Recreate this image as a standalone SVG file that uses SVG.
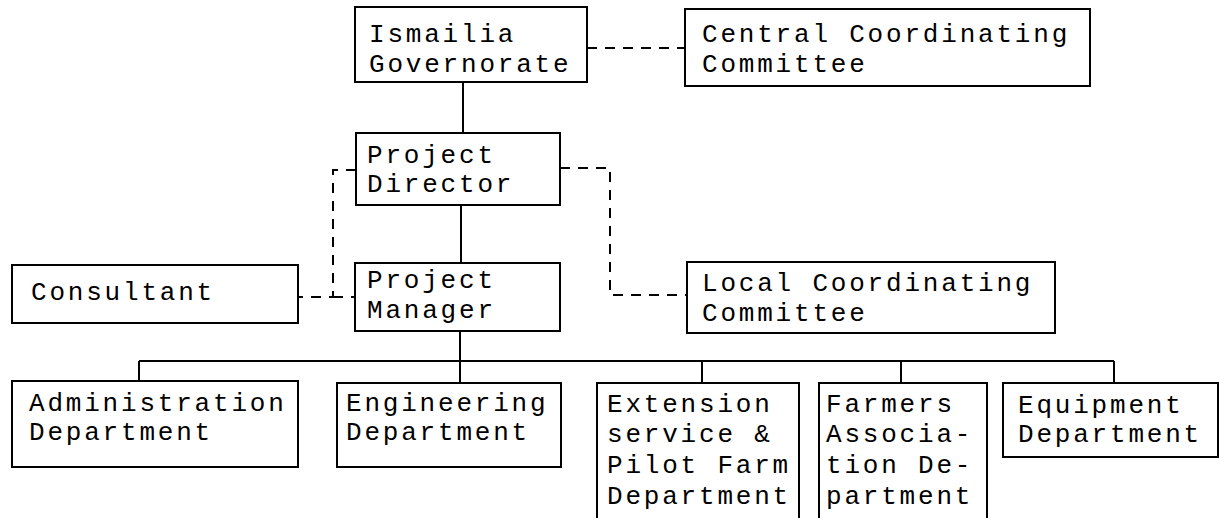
<svg xmlns="http://www.w3.org/2000/svg" width="1220" height="518" viewBox="0 0 1220 518">
  <style>
    .box { fill: #fff; stroke: #000; stroke-width: 2; }
    .lbl { font-family: "Liberation Mono", "DejaVu Sans Mono", monospace; font-size: 26px; letter-spacing: 2.8px; fill: #000; }
    .solid { fill: none; stroke: #000; stroke-width: 2; }
    .dash { fill: none; stroke: #000; stroke-width: 2; stroke-dasharray: 10 8; }
  </style>
  <rect width="1220" height="518" fill="#fff"/>

  <!-- connectors -->
  <g id="connectors">
    <line class="solid" x1="463" y1="82" x2="463" y2="133"/>
    <line class="solid" x1="461" y1="205" x2="461" y2="263"/>
    <line class="solid" x1="460" y1="331" x2="460" y2="361"/>
    <line class="solid" x1="139" y1="361" x2="1114" y2="361"/>
    <line class="solid" x1="139" y1="361" x2="139" y2="381"/>
    <line class="solid" x1="460" y1="361" x2="460" y2="383"/>
    <line class="solid" x1="702" y1="361" x2="702" y2="383"/>
    <line class="solid" x1="901" y1="361" x2="901" y2="383"/>
    <line class="solid" x1="1114" y1="361" x2="1114" y2="383"/>
    <line class="dash" x1="587" y1="48" x2="685" y2="48"/>
    <polyline class="dash" points="356,170 333,170 333,297 298,297"/>
    <line class="dash" x1="333" y1="297" x2="355" y2="297"/>
    <polyline class="dash" points="560,168 610,168 610,295 687,295"/>
  </g>

  <g id="ismailia">
    <rect class="box" x="355" y="7" width="232" height="75"/>
    <text class="lbl" x="369" y="42">Ismailia</text>
    <text class="lbl" x="369" y="72">Governorate</text>
  </g>
  <g id="central">
    <rect class="box" x="685" y="9" width="405" height="77"/>
    <text class="lbl" x="702" y="42">Central Coordinating</text>
    <text class="lbl" x="702" y="72">Committee</text>
  </g>
  <g id="director">
    <rect class="box" x="356" y="133" width="204" height="72"/>
    <text class="lbl" x="367" y="163">Project</text>
    <text class="lbl" x="367" y="192">Director</text>
  </g>
  <g id="consultant">
    <rect class="box" x="12" y="265" width="286" height="58"/>
    <text class="lbl" x="31" y="300">Consultant</text>
  </g>
  <g id="manager">
    <rect class="box" x="355" y="263" width="205" height="68"/>
    <text class="lbl" x="367" y="288">Project</text>
    <text class="lbl" x="367" y="318">Manager</text>
  </g>
  <g id="local">
    <rect class="box" x="687" y="262" width="368" height="71"/>
    <text class="lbl" x="702" y="291">Local Coordinating</text>
    <text class="lbl" x="702" y="321">Committee</text>
  </g>
  <g id="administration">
    <rect class="box" x="12" y="381" width="286" height="86"/>
    <text class="lbl" x="29" y="411">Administration</text>
    <text class="lbl" x="29" y="440">Department</text>
  </g>
  <g id="engineering">
    <rect class="box" x="337" y="383" width="224" height="84"/>
    <text class="lbl" x="346" y="411">Engineering</text>
    <text class="lbl" x="346" y="440">Department</text>
  </g>
  <g id="extension">
    <rect class="box" x="597" y="383" width="202" height="150"/>
    <text class="lbl" x="607" y="412">Extension</text>
    <text class="lbl" x="607" y="442">service &amp;</text>
    <text class="lbl" x="607" y="473">Pilot Farm</text>
    <text class="lbl" x="607" y="504">Department</text>
  </g>
  <g id="farmers">
    <rect class="box" x="819" y="383" width="168" height="150"/>
    <text class="lbl" x="826" y="412">Farmers</text>
    <text class="lbl" x="826" y="442">Associa-</text>
    <text class="lbl" x="826" y="473">tion De-</text>
    <text class="lbl" x="826" y="504">partment</text>
  </g>
  <g id="equipment">
    <rect class="box" x="1003" y="383" width="215" height="74"/>
    <text class="lbl" x="1018" y="413">Equipment</text>
    <text class="lbl" x="1018" y="442">Department</text>
  </g>
</svg>
